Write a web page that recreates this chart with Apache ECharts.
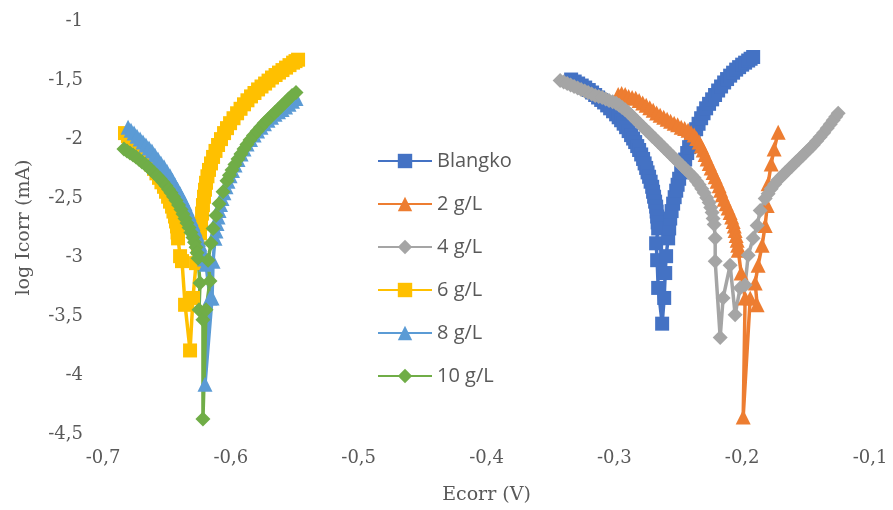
<!DOCTYPE html>
<html>
<head>
<meta charset="utf-8">
<script src="https://cdn.jsdelivr.net/npm/echarts@6/dist/echarts.min.js"></script>
<style>html,body{margin:0;padding:0;background:#fff}#c{width:893px;height:510px}</style>
</head>
<body>
<div id="c"></div>
<script>
const seriesNames = ['Blangko', '2 g/L', '4 g/L', '6 g/L', '8 g/L', '10 g/L'];
const xTicks = [-0.7, -0.6, -0.5, -0.4, -0.3, -0.2, -0.1];
const yTicks = [-4.5, -4, -3.5, -3, -2.5, -2, -1.5, -1];

const blangkoX = [-0.3338,-0.3310,-0.3283,-0.3255,-0.3228,-0.3200,-0.3174,-0.3150,-0.3127,-0.3103,-0.3080,-0.3056,-0.3033,-0.3010,-0.2986,-0.2966,-0.2947,-0.2927,-0.2908,-0.2888,-0.2869,-0.2853,-0.2837,-0.2821,-0.2806,-0.2790,-0.2775,-0.2763,-0.2751,-0.2740,-0.2728,-0.2716,-0.2704,-0.2697,-0.2689,-0.2681,-0.2673,-0.2669,-0.2665,-0.2661,-0.2657,
  -0.2673,-0.2665,-0.2657,-0.2626,-0.2610,-0.2602,-0.2595,
  -0.2579,-0.2571,-0.2563,-0.2552,-0.2540,-0.2528,-0.2516,-0.2505,-0.2493,-0.2477,-0.2461,-0.2446,-0.2430,-0.2415,-0.2399,-0.2380,-0.2360,-0.2341,-0.2321,-0.2302,-0.2282,-0.2259,-0.2235,-0.2212,-0.2188,-0.2165,-0.2141,-0.2118,-0.2094,-0.2071,-0.2047,-0.2024,-0.2000,-0.1977,-0.1953,-0.1934,-0.1914];
const blangkoY = [-1.496,-1.513,-1.530,-1.547,-1.564,-1.585,-1.606,-1.627,-1.648,-1.669,-1.690,-1.715,-1.740,-1.765,-1.791,-1.816,-1.841,-1.870,-1.900,-1.933,-1.967,-1.996,-2.026,-2.060,-2.093,-2.131,-2.169,-2.207,-2.245,-2.283,-2.320,-2.362,-2.405,-2.447,-2.489,-2.531,-2.573,-2.615,-2.657,-2.707,-2.758,
  -2.884,-3.027,-3.262,-3.565,-3.347,-3.136,-2.993,
  -2.842,-2.758,-2.674,-2.611,-2.548,-2.493,-2.438,-2.388,-2.337,-2.283,-2.228,-2.174,-2.119,-2.069,-2.018,-1.967,-1.917,-1.871,-1.824,-1.782,-1.740,-1.702,-1.664,-1.627,-1.589,-1.555,-1.521,-1.492,-1.463,-1.438,-1.412,-1.391,-1.370,-1.353,-1.335,-1.320,-1.305];

const g2X = [-0.2970,-0.2943,-0.2915,-0.2888,-0.2861,-0.2833,-0.2806,-0.2778,-0.2751,-0.2723,-0.2696,-0.2669,-0.2642,-0.2614,-0.2587,-0.2560,-0.2532,-0.2505,-0.2477,-0.2450,-0.2423,-0.2400,-0.2376,-0.2356,-0.2336,-0.2320,-0.2305,-0.2290,-0.2274,-0.2258,-0.2243,-0.2227,-0.2211,-0.2196,-0.2180,-0.2168,-0.2156,-0.2140,-0.2125,-0.2110,-0.2094,-0.2082,-0.2070,-0.2062,-0.2055,-0.2047,-0.2039,-0.2035,-0.2031,
  -0.2008,-0.1977,-0.1992,-0.1937,-0.1883,-0.1898,-0.1875,-0.1844,-0.1820,-0.1804,-0.1797,-0.1773,-0.1750,-0.1718];
const g2Y = [-1.622,-1.615,-1.622,-1.640,-1.648,-1.655,-1.673,-1.695,-1.715,-1.735,-1.757,-1.780,-1.799,-1.815,-1.833,-1.850,-1.866,-1.880,-1.900,-1.910,-1.925,-1.945,-1.967,-1.995,-2.026,-2.060,-2.093,-2.131,-2.169,-2.207,-2.245,-2.283,-2.320,-2.358,-2.396,-2.434,-2.472,-2.510,-2.548,-2.585,-2.623,-2.661,-2.699,-2.737,-2.775,-2.817,-2.859,-2.901,-2.943,
  -3.136,-3.347,-4.356,-3.347,-3.405,-3.220,-3.069,-2.901,-2.733,-2.564,-2.379,-2.211,-2.085,-1.942];

const g4X = [-0.3424,-0.3396,-0.3369,-0.3342,-0.3315,-0.3287,-0.3260,-0.3232,-0.3205,-0.3177,-0.3150,-0.3122,-0.3095,-0.3068,-0.3041,-0.3013,-0.2986,-0.2962,-0.2939,-0.2915,-0.2892,-0.2868,-0.2845,-0.2821,-0.2798,-0.2774,-0.2751,-0.2727,-0.2704,-0.2680,-0.2657,-0.2633,-0.2610,-0.2586,-0.2563,-0.2539,-0.2516,-0.2492,-0.2469,-0.2446,-0.2423,-0.2399,-0.2376,-0.2356,-0.2336,-0.2316,-0.2297,-0.2277,-0.2258,-0.2246,-0.2235,-0.2227,-0.2219,
  -0.2211,-0.2211,-0.2172,-0.2149,-0.2094,-0.2055,-0.2016,-0.1977,-0.1953,-0.1914,-0.1883,-0.1859,
  -0.1820,-0.1797,-0.1773,-0.1746,-0.1718,-0.1690,-0.1663,-0.1636,-0.1609,-0.1581,-0.1554,-0.1526,-0.1499,-0.1471,-0.1444,-0.1417,-0.1390,-0.1362,-0.1335,-0.1311,-0.1288,-0.1268,-0.1249];
const g4Y = [-1.505,-1.517,-1.530,-1.542,-1.555,-1.567,-1.580,-1.593,-1.606,-1.618,-1.631,-1.640,-1.648,-1.660,-1.673,-1.685,-1.698,-1.715,-1.732,-1.753,-1.774,-1.799,-1.824,-1.850,-1.875,-1.900,-1.925,-1.950,-1.976,-2.001,-2.026,-2.051,-2.077,-2.102,-2.127,-2.152,-2.177,-2.203,-2.228,-2.253,-2.278,-2.304,-2.329,-2.358,-2.388,-2.421,-2.455,-2.497,-2.539,-2.581,-2.623,-2.674,-2.724,
  -2.842,-3.035,-3.683,-3.347,-3.069,-3.489,-3.262,-3.237,-2.985,-2.842,-2.733,-2.606,
  -2.505,-2.463,-2.421,-2.383,-2.346,-2.316,-2.287,-2.257,-2.228,-2.198,-2.169,-2.140,-2.110,-2.080,-2.051,-2.017,-1.984,-1.946,-1.908,-1.875,-1.841,-1.811,-1.782];

const g6X = [-0.6828,-0.6805,-0.6781,-0.6758,-0.6734,-0.6711,-0.6687,-0.6664,-0.6640,-0.6621,-0.6601,-0.6582,-0.6562,-0.6543,-0.6523,-0.6507,-0.6491,-0.6476,-0.6460,-0.6449,-0.6437,-0.6429,-0.6421,-0.6417,-0.6413,
  -0.6397,-0.6382,-0.6358,-0.6319,-0.6296,-0.6272,-0.6257,
  -0.6241,-0.6233,-0.6225,-0.6218,-0.6210,-0.6202,-0.6194,-0.6183,-0.6171,-0.6155,-0.6139,-0.6120,-0.6100,-0.6077,-0.6053,-0.6030,-0.6006,-0.5979,-0.5951,-0.5924,-0.5897,-0.5870,-0.5842,-0.5815,-0.5787,-0.5760,-0.5732,-0.5705,-0.5678,-0.5650,-0.5623,-0.5596,-0.5568,-0.5541,-0.5513,-0.5494,-0.5474];
const g6Y = [-1.950,-1.976,-2.001,-2.031,-2.060,-2.090,-2.119,-2.152,-2.186,-2.219,-2.253,-2.291,-2.329,-2.367,-2.405,-2.447,-2.489,-2.531,-2.573,-2.615,-2.657,-2.699,-2.741,-2.792,-2.842,
  -2.993,-3.035,-3.405,-3.792,-3.347,-3.052,-2.926,
  -2.800,-2.716,-2.632,-2.560,-2.489,-2.430,-2.371,-2.316,-2.262,-2.207,-2.152,-2.101,-2.051,-2.001,-1.950,-1.908,-1.866,-1.824,-1.782,-1.744,-1.706,-1.672,-1.639,-1.610,-1.580,-1.555,-1.530,-1.505,-1.479,-1.458,-1.437,-1.416,-1.395,-1.374,-1.353,-1.340,-1.328];

const g8X = [-0.6804,-0.6781,-0.6757,-0.6734,-0.6710,-0.6687,-0.6664,-0.6640,-0.6617,-0.6594,-0.6570,-0.6547,-0.6523,-0.6500,-0.6476,-0.6457,-0.6437,-0.6417,-0.6397,-0.6378,-0.6358,-0.6343,-0.6327,-0.6312,-0.6296,-0.6280,-0.6264,-0.6253,-0.6241,-0.6230,-0.6218,-0.6206,-0.6194,
  -0.6163,-0.6202,-0.6147,-0.6139,
  -0.6124,-0.6116,-0.6108,-0.6100,-0.6092,-0.6081,-0.6069,-0.6054,-0.6038,-0.6022,-0.6006,-0.5987,-0.5967,-0.5944,-0.5920,-0.5897,-0.5873,-0.5846,-0.5818,-0.5791,-0.5764,-0.5737,-0.5709,-0.5682,-0.5654,-0.5627,-0.5599,-0.5572,-0.5545,-0.5518,-0.5490];
const g8Y = [-1.900,-1.925,-1.950,-1.976,-2.001,-2.026,-2.051,-2.077,-2.102,-2.136,-2.169,-2.203,-2.236,-2.274,-2.312,-2.350,-2.388,-2.425,-2.463,-2.506,-2.548,-2.590,-2.632,-2.674,-2.716,-2.762,-2.808,-2.850,-2.892,-2.934,-2.976,-3.018,-3.061,
  -3.347,-4.078,-3.347,-3.035,
  -2.842,-2.779,-2.716,-2.661,-2.606,-2.556,-2.505,-2.455,-2.405,-2.358,-2.312,-2.266,-2.220,-2.173,-2.127,-2.085,-2.043,-2.005,-1.967,-1.933,-1.900,-1.870,-1.841,-1.816,-1.791,-1.770,-1.749,-1.728,-1.706,-1.681,-1.656];

const g10X = [-0.6836,-0.6812,-0.6789,-0.6765,-0.6742,-0.6718,-0.6695,-0.6671,-0.6648,-0.6624,-0.6601,-0.6577,-0.6554,-0.6530,-0.6507,-0.6487,-0.6468,-0.6448,-0.6429,-0.6409,-0.6390,-0.6374,-0.6358,-0.6343,-0.6327,-0.6312,-0.6296,-0.6284,-0.6272,-0.6264,-0.6257,
  -0.6241,-0.6249,-0.6218,-0.6218,-0.6194,-0.6163,-0.6178,
  -0.6155,-0.6139,-0.6116,-0.6092,-0.6061,-0.6030,-0.6011,-0.5991,-0.5968,-0.5944,-0.5921,-0.5897,-0.5874,-0.5850,-0.5823,-0.5795,-0.5768,-0.5740,-0.5713,-0.5685,-0.5658,-0.5631,-0.5604,-0.5576,-0.5549,-0.5521,-0.5490];
const g10Y = [-2.085,-2.102,-2.119,-2.136,-2.152,-2.173,-2.194,-2.215,-2.236,-2.262,-2.287,-2.312,-2.337,-2.367,-2.396,-2.425,-2.455,-2.489,-2.522,-2.560,-2.598,-2.636,-2.674,-2.712,-2.749,-2.792,-2.834,-2.876,-2.918,-2.964,-3.010,
  -3.220,-3.447,-3.532,-4.373,-3.447,-3.204,-3.027,
  -2.884,-2.758,-2.648,-2.548,-2.447,-2.354,-2.308,-2.262,-2.216,-2.169,-2.127,-2.085,-2.047,-2.009,-1.971,-1.934,-1.900,-1.866,-1.837,-1.807,-1.778,-1.749,-1.720,-1.690,-1.661,-1.631,-1.606];

const seriesX = [blangkoX, g2X, g4X, g6X, g8X, g10X];
const seriesY = [blangkoY, g2Y, g4Y, g6Y, g8Y, g10Y];
const colors = ['#4472C4', '#ED7D31', '#A5A5A5', '#FFC000', '#5B9BD5', '#70AD47'];
const symbols = ['rect', 'triangle', 'diamond', 'rect', 'triangle', 'diamond'];
const sizes = [14, 15, 15, 14, 15, 15];

seriesX.forEach((xs, i) => { if (xs.length !== seriesY[i].length) throw new Error('length mismatch in ' + seriesNames[i] + ': ' + xs.length + ' vs ' + seriesY[i].length); });

function zip(xs, ys) { return xs.map((x, i) => [x, ys[i]]); }
function fmt(v) { return String(+v.toFixed(1)).replace('.', ','); }

const chart = echarts.init(document.getElementById('c'), null, { renderer: 'canvas' });
chart.setOption({
  animation: false,
  backgroundColor: '#ffffff',
  color: colors,
  grid: { left: 103, right: 23, top: 21, bottom: 73, containLabel: false },
  legend: {
    orient: 'vertical', left: 372, top: 146,
    itemWidth: 54, itemHeight: 18, itemGap: 23,
    textStyle: { fontFamily: 'Open Sans', fontSize: 20, color: '#595959', lineHeight: 20, padding: [0, 0, 0, 0] },
    data: seriesNames
  },
  xAxis: {
    type: 'value', min: xTicks[0], max: xTicks[xTicks.length - 1], interval: 0.1,
    name: 'Ecorr (V)', nameLocation: 'middle', nameGap: 52,
    nameTextStyle: { fontFamily: 'DejaVu Serif', fontSize: 19, color: '#595959' },
    axisLine: { show: false }, axisTick: { show: false }, splitLine: { show: false },
    axisLabel: { margin: 15, fontFamily: 'DejaVu Serif', fontSize: 18, color: '#595959', formatter: fmt }
  },
  yAxis: {
    type: 'value', min: yTicks[0], max: yTicks[yTicks.length - 1], interval: 0.5,
    name: 'log Icorr (mA)', nameLocation: 'middle', nameGap: 69, nameRotate: 90,
    nameTextStyle: { fontFamily: 'DejaVu Serif', fontSize: 19, color: '#595959' },
    axisLine: { show: false }, axisTick: { show: false }, splitLine: { show: false },
    axisLabel: { margin: 20, fontFamily: 'DejaVu Serif', fontSize: 18, color: '#595959', formatter: fmt }
  },
  series: seriesNames.map((name, i) => ({
    name: name, type: 'line',
    data: zip(seriesX[i], seriesY[i]),
    symbol: symbols[i], symbolSize: sizes[i],
    showSymbol: true, showAllSymbol: true,
    lineStyle: { width: 3.5, color: colors[i] },
    itemStyle: { color: colors[i], borderWidth: 0 },
    emphasis: { disabled: true }
  }))
});
</script>
</body>
</html>
